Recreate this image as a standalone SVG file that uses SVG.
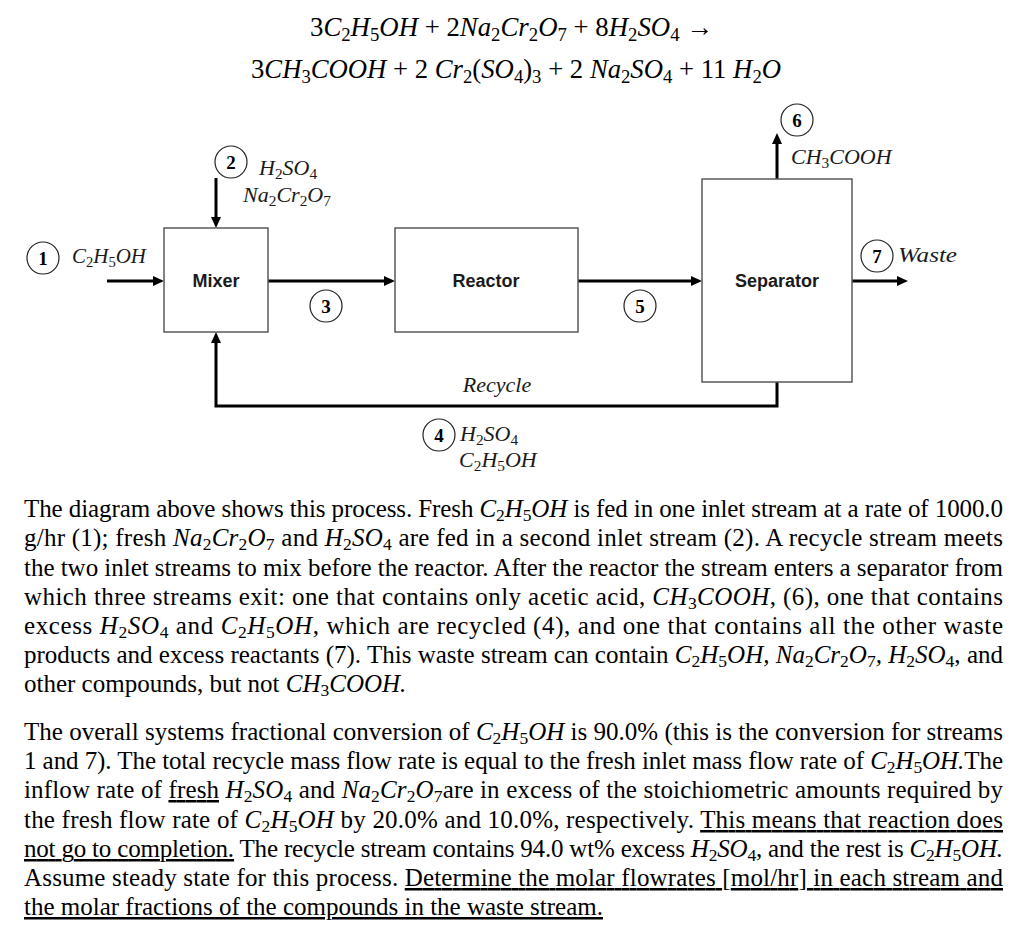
<svg xmlns="http://www.w3.org/2000/svg" width="1024" height="952" viewBox="0 0 1024 952">
<style>
.box{fill:#fff;stroke:#5a5a5a;stroke-width:1.5}
.lbl{font-family:"Liberation Sans",Arial,sans-serif;font-weight:bold;font-size:18px;text-anchor:middle;fill:#1a1a1a}
.m{font-family:"Liberation Serif","Times New Roman",serif;font-style:italic;font-size:22px;fill:#1a1a1a}
.eq{font-family:"Liberation Serif","Times New Roman",serif;font-size:27px;fill:#000}
.p{font-family:"Liberation Serif","Times New Roman",serif;font-size:25px;fill:#000}
.i{font-style:italic}
.s{font-size:70%;font-style:normal;baseline-shift:-0.25em}
.u{text-decoration:underline}
.cir{fill:#fff;stroke:#222;stroke-width:1.2}
.n{font-family:"Liberation Serif","Times New Roman",serif;font-weight:bold;font-size:19px;text-anchor:middle;fill:#000}
.conn{stroke:#000;stroke-width:3;fill:none}
</style>
<defs>
<marker id="ah" markerUnits="userSpaceOnUse" markerWidth="11" markerHeight="10" refX="0" refY="5" orient="auto">
<path d="M0,0 L11,5 L0,10 z" fill="#000"/>
</marker>
</defs>

<g id="equation">
<text class="eq" x="310" y="36" textLength="403" lengthAdjust="spacingAndGlyphs">3<tspan class="i">C<tspan class="s">2</tspan>H<tspan class="s">5</tspan>OH</tspan> + 2<tspan class="i">Na<tspan class="s">2</tspan>Cr<tspan class="s">2</tspan>O<tspan class="s">7</tspan></tspan> + 8<tspan class="i">H<tspan class="s">2</tspan>SO<tspan class="s">4</tspan></tspan>  →</text>
<text class="eq" x="251" y="78" textLength="530" lengthAdjust="spacingAndGlyphs">3<tspan class="i">CH<tspan class="s">3</tspan>COOH</tspan> + 2 <tspan class="i">Cr<tspan class="s">2</tspan></tspan>(<tspan class="i">SO<tspan class="s">4</tspan></tspan>)<tspan class="s">3</tspan> + 2 <tspan class="i">Na<tspan class="s">2</tspan>SO<tspan class="s">4</tspan></tspan> + 11 <tspan class="i">H<tspan class="s">2</tspan>O</tspan></text>
</g>

<g id="connectors">
<path class="conn" d="M107,281 H153" marker-end="url(#ah)"/>
<path class="conn" d="M216,178 V217" marker-end="url(#ah)"/>
<path class="conn" d="M268,281 H384" marker-end="url(#ah)"/>
<path class="conn" d="M578,281 H691" marker-end="url(#ah)"/>
<path class="conn" d="M852,281 H897" marker-end="url(#ah)"/>
<path class="conn" d="M777,179 V144" marker-end="url(#ah)"/>
<path class="conn" d="M777,382 V406 H216 V343" marker-end="url(#ah)"/>
</g>

<g id="mixer">
<rect class="box" x="164" y="228" width="104" height="104"/>
<text class="lbl" x="216" y="287">Mixer</text>
</g>
<g id="reactor">
<rect class="box" x="395" y="228" width="183" height="104"/>
<text class="lbl" x="486" y="287">Reactor</text>
</g>
<g id="separator">
<rect class="box" x="702" y="179" width="150" height="203"/>
<text class="lbl" x="777" y="287">Separator</text>
</g>

<g id="stream1">
<circle class="cir" cx="43" cy="258" r="16"/>
<text class="n" x="43" y="265">1</text>
<text class="m" x="72" y="263" textLength="74" lengthAdjust="spacingAndGlyphs">C<tspan class="s">2</tspan>H<tspan class="s">5</tspan>OH</text>
</g>
<g id="stream2">
<circle class="cir" cx="231" cy="162" r="16"/>
<text class="n" x="231" y="169">2</text>
<text class="m" x="259" y="175">H<tspan class="s">2</tspan>SO<tspan class="s">4</tspan></text>
<text class="m" x="243" y="202">Na<tspan class="s">2</tspan>Cr<tspan class="s">2</tspan>O<tspan class="s">7</tspan></text>
</g>
<g id="stream3">
<circle class="cir" cx="326" cy="306" r="16"/>
<text class="n" x="326" y="313">3</text>
</g>
<g id="stream5">
<circle class="cir" cx="640" cy="306" r="16"/>
<text class="n" x="640" y="313">5</text>
</g>
<g id="stream6">
<circle class="cir" cx="797" cy="120" r="16"/>
<text class="n" x="797" y="127">6</text>
<text class="m" x="791" y="164" font-size="20">CH<tspan class="s">3</tspan>COOH</text>
</g>
<g id="stream7">
<circle class="cir" cx="877" cy="256" r="16"/>
<text class="n" x="877" y="263">7</text>
<text class="m" x="898" y="262" textLength="59" lengthAdjust="spacingAndGlyphs">Waste</text>
</g>
<g id="stream4">
<text class="m" x="497" y="392" text-anchor="middle">Recycle</text>
<circle class="cir" cx="439" cy="435" r="16"/>
<text class="n" x="439" y="442">4</text>
<text class="m" x="460" y="441">H<tspan class="s">2</tspan>SO<tspan class="s">4</tspan></text>
<text class="m" x="459" y="467">C<tspan class="s">2</tspan>H<tspan class="s">5</tspan>OH</text>
</g>

<g id="paragraph1">
<text class="p" x="24" y="517" textLength="979" lengthAdjust="spacing">The diagram above shows this process. Fresh <tspan class="i">C<tspan class="s">2</tspan>H<tspan class="s">5</tspan>OH</tspan> is fed in one inlet stream at a rate of 1000.0</text>
<text class="p" x="24" y="546" textLength="979" lengthAdjust="spacing">g/hr (1); fresh <tspan class="i">Na<tspan class="s">2</tspan>Cr<tspan class="s">2</tspan>O<tspan class="s">7</tspan></tspan> and <tspan class="i">H<tspan class="s">2</tspan>SO<tspan class="s">4</tspan></tspan> are fed in a second inlet stream (2). A recycle stream meets</text>
<text class="p" x="24" y="576" textLength="979" lengthAdjust="spacing">the two inlet streams to mix before the reactor. After the reactor the stream enters a separator from</text>
<text class="p" x="24" y="605" textLength="979" lengthAdjust="spacing">which three streams exit: one that contains only acetic acid, <tspan class="i">CH<tspan class="s">3</tspan>COOH</tspan>, (6), one that contains</text>
<text class="p" x="24" y="634" textLength="979" lengthAdjust="spacing">excess <tspan class="i">H<tspan class="s">2</tspan>SO<tspan class="s">4</tspan></tspan> and <tspan class="i">C<tspan class="s">2</tspan>H<tspan class="s">5</tspan>OH</tspan>, which are recycled (4), and one that contains all the other waste</text>
<text class="p" x="24" y="663" textLength="979" lengthAdjust="spacing">products and excess reactants (7). This waste stream can contain <tspan class="i">C<tspan class="s">2</tspan>H<tspan class="s">5</tspan>OH, Na<tspan class="s">2</tspan>Cr<tspan class="s">2</tspan>O<tspan class="s">7</tspan>, H<tspan class="s">2</tspan>SO<tspan class="s">4</tspan></tspan>, and</text>
<text class="p" x="24" y="692">other compounds, but not <tspan class="i">CH<tspan class="s">3</tspan>COOH.</tspan></text>
</g>

<g id="paragraph2">
<text class="p" x="24" y="740" textLength="979" lengthAdjust="spacing">The overall systems fractional conversion of <tspan class="i">C<tspan class="s">2</tspan>H<tspan class="s">5</tspan>OH</tspan> is 90.0% (this is the conversion for streams</text>
<text class="p" x="24" y="769" textLength="979" lengthAdjust="spacing">1 and 7). The total recycle mass flow rate is equal to the fresh inlet mass flow rate of <tspan class="i">C<tspan class="s">2</tspan>H<tspan class="s">5</tspan>OH.</tspan>The</text>
<text class="p" x="24" y="798" textLength="979" lengthAdjust="spacing">inflow rate of <tspan class="u">fresh</tspan> <tspan class="i">H<tspan class="s">2</tspan>SO<tspan class="s">4</tspan></tspan> and <tspan class="i">Na<tspan class="s">2</tspan>Cr<tspan class="s">2</tspan>O<tspan class="s">7</tspan></tspan>are in excess of the stoichiometric amounts required by</text>
<text class="p" x="24" y="828" textLength="979" lengthAdjust="spacing">the fresh flow rate of <tspan class="i">C<tspan class="s">2</tspan>H<tspan class="s">5</tspan>OH</tspan> by 20.0% and 10.0%, respectively. <tspan class="u">This means that reaction does</tspan></text>
<text class="p" x="24" y="857" textLength="979" lengthAdjust="spacing"><tspan class="u">not go to completion.</tspan> The recycle stream contains 94.0 wt% excess <tspan class="i">H<tspan class="s">2</tspan>SO<tspan class="s">4</tspan></tspan>, and the rest is <tspan class="i">C<tspan class="s">2</tspan>H<tspan class="s">5</tspan>OH.</tspan></text>
<text class="p" x="24" y="886" textLength="979" lengthAdjust="spacing">Assume steady state for this process. <tspan class="u">Determine the molar flowrates [mol/hr] in each stream and</tspan></text>
<text class="p" x="24" y="915"><tspan class="u">the molar fractions of the compounds in the waste stream.</tspan></text>
</g>
</svg>
